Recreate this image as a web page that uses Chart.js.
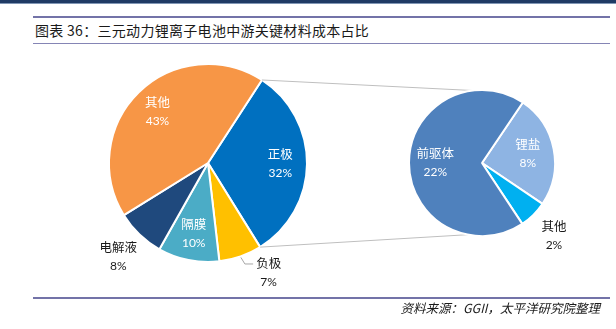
<!DOCTYPE html>
<html>
<head>
<meta charset="utf-8">
<script src="https://cdn.jsdelivr.net/npm/chart.js@4.4.1/dist/chart.umd.min.js"></script>
<style>
  body { margin: 0; background: #fff; width: 616px; height: 329px; overflow: hidden; position: relative; font-family: "Noto Sans CJK SC", sans-serif; }
  #topbar { position: absolute; left: 0; top: 0; width: 616px; height: 3px; background: #1f3a64; border-bottom: 1px solid #8096b5; }
  .rule { position: absolute; left: 33px; width: 577px; background: #7373a8; }
  #title { position: absolute; left: 35px; top: 20px; font-size: 14px; line-height: 20px; color: #1a1a1a; letter-spacing: 0.3px; }
  #source { position: absolute; right: 16px; top: 299px; font-size: 12.5px; line-height: 18px; font-style: italic; color: #1a1a1a; }
  canvas { position: absolute; left: 0; top: 0; }
</style>
</head>
<body>
<div id="topbar"></div>
<div class="rule" style="top:16px;height:2px"></div>
<div id="title">图表 36：三元动力锂离子电池中游关键材料成本占比</div>
<div class="rule" style="top:43px;height:1px;background:#8585b5"></div>
<canvas id="main" width="616" height="329"></canvas>
<canvas id="sub" width="616" height="329"></canvas>
<div class="rule" style="top:297px;height:2px"></div>
<div id="source">资料来源：GGII，太平洋研究院整理</div>

<script>
// cost share of the main materials (percent of total)
const mainLabels = ['正极', '负极', '隔膜', '电解液', '其他'];
const mainValues = [32, 7, 10, 8, 43];
const mainColors = ['#0070c0', '#ffc000', '#4bacc6', '#1f497d', '#f79646'];

// breakdown of the cathode slice (also percent of total)
const subLabels = ['锂盐', '其他', '前驱体'];
const subValues = [8, 2, 22];
const subColors = ['#8eb4e3', '#00b0f0', '#4f81bd'];

// names + percentages; small slices get their label outside
const sliceLabels = {
  id: 'sliceLabels',
  afterDatasetsDraw(chart, args, opts) {
    const ctx = chart.ctx;
    const meta = chart.getDatasetMeta(0);
    const values = chart.data.datasets[0].data;
    const total = values.reduce((a, b) => a + b, 0);
    ctx.save();
    ctx.textAlign = 'center';
    ctx.textBaseline = 'middle';
    meta.data.forEach((arc, i) => {
      const p = arc.getProps(['x', 'y', 'startAngle', 'endAngle', 'outerRadius'], true);
      const mid = (p.startAngle + p.endAngle) / 2;
      const outside = values[i] / total < 0.09;
      const f = outside ? opts.outside : opts.inside;
      let lx = p.x + Math.cos(mid) * p.outerRadius * f;
      let ly = p.y + Math.sin(mid) * p.outerRadius * f;
      const lead = opts.leader && opts.leader.index === i ? opts.leader : null;
      if (lead) { lx += lead.dx; ly += lead.dy; }
      const nameY = ly - 9.5, pctY = ly + 9.5;
      ctx.fillStyle = outside ? '#1a1a1a' : '#ffffff';
      ctx.font = '12.5px "Noto Sans CJK SC"';
      ctx.fillText(chart.data.labels[i], lx, nameY);
      ctx.font = '12px Lato';
      ctx.fillText(values[i] + '%', lx, pctY);
      if (lead) {
        ctx.font = '12.5px "Noto Sans CJK SC"';
        const left = lx - ctx.measureText(chart.data.labels[i]).width / 2;
        const ex = p.x + Math.cos(mid) * (p.outerRadius + 1);
        const ey = p.y + Math.sin(mid) * (p.outerRadius + 1);
        ctx.strokeStyle = '#a6a6a6';
        ctx.lineWidth = 1;
        ctx.beginPath();
        ctx.moveTo(ex, ey);
        ctx.lineTo(ex + 4, nameY + 1);
        ctx.lineTo(left - 3, nameY + 1);
        ctx.stroke();
      }
    });
    ctx.restore();
  }
};

function pieOptions(rotation, radius, padding, labelOpts) {
  return {
    responsive: false,
    animation: false,
    rotation: rotation,
    radius: radius,
    layout: { padding: padding },
    plugins: {
      legend: { display: false },
      tooltip: { enabled: false },
      sliceLabels: labelOpts
    }
  };
}

const mainChart = new Chart(document.getElementById('main'), {
  type: 'pie',
  data: {
    labels: mainLabels,
    datasets: [{ data: mainValues, backgroundColor: mainColors, borderColor: '#ffffff', borderWidth: 2 }]
  },
  options: pieOptions(33, 99, { left: 0, right: 200, top: 0, bottom: 3 },
    { inside: 0.73, outside: 1.31, leader: { index: 1, dx: 18, dy: -13 } }),
  plugins: [sliceLabels]
});

// grey lines joining the cathode slice to the breakdown pie
const connectors = {
  id: 'connectors',
  beforeDatasetsDraw(chart) {
    const src = mainChart.getDatasetMeta(0).data[0].getProps(['x', 'y', 'startAngle', 'endAngle', 'outerRadius'], true);
    const dst = chart.getDatasetMeta(0).data[0].getProps(['x', 'y', 'outerRadius'], true);
    const ctx = chart.ctx;
    const ends = [[src.startAngle, -97], [src.endAngle, 101]];
    ctx.save();
    ctx.strokeStyle = '#bfbfbf';
    ctx.lineWidth = 1;
    ends.forEach(([a, deg]) => {
      const b = deg * Math.PI / 180;
      ctx.beginPath();
      ctx.moveTo(src.x + Math.cos(a) * src.outerRadius, src.y + Math.sin(a) * src.outerRadius);
      ctx.lineTo(dst.x + Math.cos(b) * dst.outerRadius, dst.y + Math.sin(b) * dst.outerRadius);
      ctx.stroke();
    });
    ctx.restore();
  }
};

new Chart(document.getElementById('sub'), {
  type: 'pie',
  data: {
    labels: subLabels,
    datasets: [{ data: subValues, backgroundColor: subColors, borderColor: '#ffffff', borderWidth: 2 }]
  },
  options: pieOptions(34, 73, { left: 348, right: 0, top: 0, bottom: 3 },
    { inside: 0.64, outside: 1.4 }),
  plugins: [connectors, sliceLabels]
});
</script>
</body>
</html>
